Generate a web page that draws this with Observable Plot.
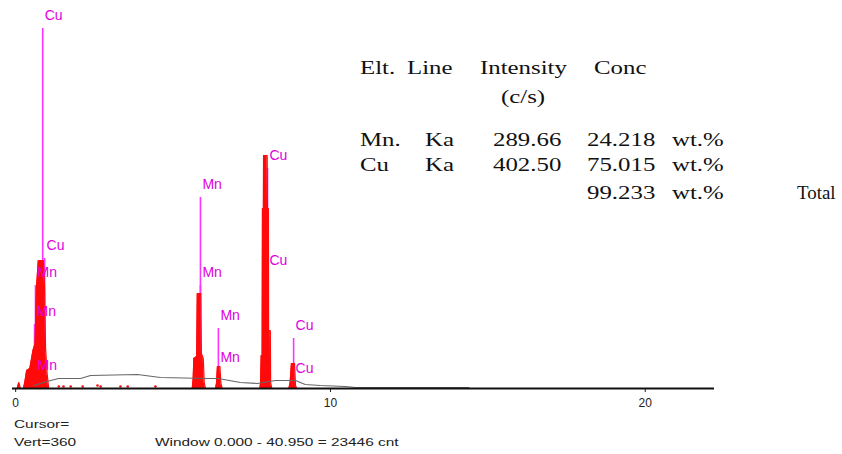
<!DOCTYPE html>
<html><head><meta charset="utf-8">
<script src="https://cdn.jsdelivr.net/npm/d3@7"></script>
<script src="https://cdn.jsdelivr.net/npm/@observablehq/plot@0.6"></script>
<style>
body{margin:0;background:#fff;}
#wrap{position:relative;width:842px;height:454px;overflow:hidden;background:#fff;}
#chart{position:absolute;left:0;top:0;}
.t{position:absolute;white-space:nowrap;font-family:"Liberation Serif",serif;font-size:18px;line-height:18px;transform:scaleX(1.38);transform-origin:0 50%;color:#111;}
.t.n{transform:scaleX(1.05);}
.f{position:absolute;white-space:nowrap;font-family:"Liberation Sans",sans-serif;font-size:11px;line-height:11px;transform:scaleX(1.4);transform-origin:0 50%;color:#222;}
</style>
</head><body>
<div id="wrap"><div id="chart"></div></div>
<script>
// Spectrum (energy keV, counts)
const spectrumKeV = [0.00,0.05,0.10,0.15,0.25,0.30,0.35,0.45,0.55,0.62,0.66,0.72,0.88,0.92,0.95,1.00,1.05,
  5.61,5.64,5.66,5.75,5.77,5.88,5.90,5.96,5.99,6.03,
  6.35,6.38,6.41,6.49,6.52,6.56,
  7.76,7.78,7.80,7.83,7.84,7.87,7.875,7.99,8.00,8.03,8.035,8.09,8.10,8.14,
  8.68,8.72,8.76,8.86,8.89,8.93,14.4];
const spectrumCounts = [0,0,6,0,0,8,18,20,38,45,100,128,128,100,40,15,0,
  0,10,30,32,95,95,35,30,6,0,
  0,5,22,22,5,0,
  0,6,33,33,180,180,233,233,180,180,58,58,6,0,
  0,6,25,25,3,0,0];
// Small noise counts along the baseline
const noiseKeV = [1.37,1.52,1.75,2.13,2.60,2.70,3.33,3.56,4.44];
const noiseCounts = [2,2,2,2,3,2,2,2,2];
// Fitted background
const bgKeV = [0.57,0.89,1.11,1.37,2.06,2.38,3.87,4.60,6.10,6.44,7.14,7.68,8.25,8.89,9.20,9.68,10.48,10.80,14.4];
const bgCounts = [3,6,8,10,10,13,14,11,10,10,6,5,8,8,4,3,2,1,1];
// KLM line markers
const markerKeV = [0.86,0.92,0.63,0.60,0.63,5.87,5.87,6.44,6.44,8.00,8.00,8.83,8.83];
const markerCounts = [360,130,103,64,10,191,103,60,18,220,115,50,7];
const markerElement = ["Cu","Cu","Mn","Mn","Mn","Mn","Mn","Mn","Mn","Cu","Cu","Cu","Cu"];
const xTicks = [0,10,20];
// Quantification table
const tableHeader = ["Elt.","Line","Intensity","Conc"];
const intensityUnit = "(c/s)";
const tableElements = ["Mn.","Cu"];
const tableLines = ["Ka","Ka"];
const tableIntensity = ["289.66","402.50"];
const tableConc = ["24.218","75.015"];
const concUnit = "wt.%";
const totalConc = "99.233";
const totalLabel = "Total";
// Footer
const footerCursor = "Cursor=";
const footerVert = "Vert=360";
const footerWindow = "Window 0.000 - 40.950 =  23446 cnt";

const spectrum = spectrumKeV.map((e,i)=>({e, c: spectrumCounts[i]}));
const noise = noiseKeV.map((e,i)=>({e, c: noiseCounts[i]}));
const bg = bgKeV.map((e,i)=>({e, c: bgCounts[i]}));
const markers = markerKeV.map((e,i)=>({e, c: markerCounts[i], el: markerElement[i]}));

const chart = Plot.plot({
  width: 842, height: 454,
  marginLeft: 12, marginRight: 128, marginTop: 28, marginBottom: 66,
  x: {domain: [-0.1, 22.2], ticks: xTicks, tickSize: 4, tickPadding: 6, tickFormat: d => String(d), label: null},
  y: {domain: [0, 360], axis: null},
  style: {fontFamily: "Liberation Sans", fontSize: "12px", background: "white", color: "#222"},
  marks: [
    Plot.ruleX(markers, {x: "e", y1: 0, y2: "c", stroke: "#ff33ff", strokeWidth: 1.6}),
    Plot.areaY(spectrum, {x: "e", y: "c", fill: "#ff0a0a"}),
    Plot.lineY(spectrum, {x: "e", y: "c", stroke: "#ff0a0a", strokeWidth: 1.2}),
    Plot.dot(noise, {x: "e", y: "c", r: 1.3, fill: "#ff0a0a"}),
    Plot.line(bg, {x: "e", y: "c", stroke: "#666", strokeWidth: 1.1}),
    Plot.ruleY([0], {stroke: "#111", strokeWidth: 2}),
    Plot.text(markers, {x: "e", y: "c", text: "el", dx: 2, dy: -13, textAnchor: "start", fill: "#e000e0", fontSize: 14})
  ]
});
document.getElementById("chart").appendChild(chart);

const wrap = document.getElementById("wrap");
function put(cls, text, left, cy){
  const d = document.createElement("div");
  d.className = cls; d.textContent = text;
  const h = cls.startsWith("t") ? 18 : 11;
  d.style.left = left + "px"; d.style.top = (cy - h/2) + "px";
  wrap.appendChild(d);
}
const headerX = [360, 407, 480, 594];
tableHeader.forEach((h,i)=>put("t", h, headerX[i], 68));
put("t", intensityUnit, 501, 97);
const rowY = [140, 165];
tableElements.forEach((el,i)=>{
  put("t", el, 360, rowY[i]);
  put("t", tableLines[i], 425, rowY[i]);
  put("t", tableIntensity[i], 493, rowY[i]);
  put("t", tableConc[i], 587, rowY[i]);
  put("t", concUnit, 672, rowY[i]);
});
put("t", totalConc, 587, 193);
put("t", concUnit, 672, 193);
put("t n", totalLabel, 797, 193);

put("f", footerCursor, 14, 424);
put("f", footerVert, 14, 442);
put("f", footerWindow, 155, 442);
</script>
</body></html>
